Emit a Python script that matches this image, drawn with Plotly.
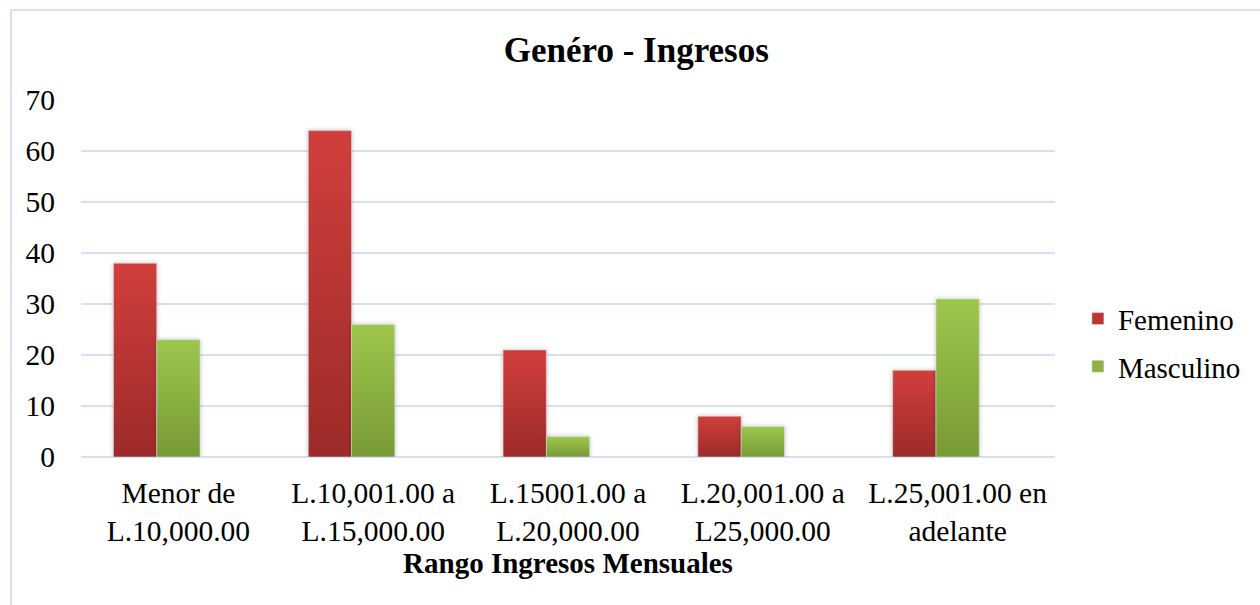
import plotly.graph_objects as go

categories = ["Menor de<br>L.10,000.00", "L.10,001.00 a<br>L.15,000.00", "L.15001.00 a<br>L.20,000.00",
              "L.20,001.00 a<br>L25,000.00", "L.25,001.00 en<br>adelante"]
femenino = [38, 64, 21, 8, 17]
masculino = [23, 26, 4, 6, 31]
y_ticks = [0, 10, 20, 30, 40, 50, 60, 70]

FONT = "Liberation Serif, Times New Roman, serif"
GRID = "#d6e2f3"

fig = go.Figure()
fig.add_trace(go.Bar(name="Femenino", x=categories, y=femenino, marker_color="#bb3633",
                     width=0.2222, offset=-0.3333, legendgroup="f"))
fig.add_trace(go.Bar(name="Masculino", x=categories, y=masculino, marker_color="#8db246",
                     width=0.2222, offset=-0.1111, legendgroup="m"))

fig.update_layout(
    width=1260, height=605,
    barmode="overlay",
    paper_bgcolor="white", plot_bgcolor="white",
    margin=dict(l=81, r=205, t=100, b=148, autoexpand=False),
    font=dict(family=FONT, size=29.5, color="black"),
    title=dict(text="<b>Genéro - Ingresos</b>", x=0.505, xanchor="center", xref="container",
               y=0.918, yanchor="middle", yref="container", font=dict(size=35, family=FONT, color="black")),
    xaxis=dict(showgrid=False, showline=False, zeroline=False, ticks="", ticklabelstandoff=15,
               range=[-0.5, 4.5], tickfont=dict(size=29.5, family=FONT),
               title=dict(text="<b>Rango Ingresos Mensuales</b>", font=dict(size=29, family=FONT), standoff=5)),
    yaxis=dict(range=[0, 70], tickvals=y_ticks, showgrid=True, gridcolor=GRID, gridwidth=2,
               zeroline=True, zerolinecolor=GRID, zerolinewidth=2, showline=False, ticks="",
               ticklabelstandoff=25, tickfont=dict(size=29.5, family=FONT)),
    legend=dict(x=1.0235, xanchor="left", y=0.32, yanchor="middle", traceorder="grouped",
                tracegroupgap=7, font=dict(size=29, family=FONT), bgcolor="rgba(0,0,0,0)"),
    showlegend=True,
    shapes=[
        dict(type="line", xref="paper", yref="paper", x0=-0.0719, x1=-0.0719, y0=1.2521, y1=-0.5,
             line=dict(color=GRID, width=2)),
        dict(type="line", xref="paper", yref="paper", x0=-0.0719, x1=1.3, y0=1.2521, y1=1.2521,
             line=dict(color=GRID, width=2)),
    ],
)

post = """
document.body.style.margin = '0';
var gd = document.getElementById('{plot_id}');
var svg = gd.querySelector('svg.main-svg');
var defs = svg.querySelector('defs');
var NS = 'http://www.w3.org/2000/svg';
function grad(id, top, bot) {
  var g = document.createElementNS(NS, 'linearGradient');
  g.setAttribute('id', id); g.setAttribute('x1', '0'); g.setAttribute('y1', '0');
  g.setAttribute('x2', '0'); g.setAttribute('y2', '1');
  var s1 = document.createElementNS(NS, 'stop'); s1.setAttribute('offset', '0'); s1.setAttribute('stop-color', top);
  var s2 = document.createElementNS(NS, 'stop'); s2.setAttribute('offset', '1'); s2.setAttribute('stop-color', bot);
  g.appendChild(s1); g.appendChild(s2); defs.appendChild(g);
}
grad('gradRed', '#d13f3c', '#9c2b29');
grad('gradGreen', '#9ec64b', '#789a37');
var ids = ['gradRed', 'gradGreen'];
var traces = gd.querySelectorAll('.barlayer .trace.bars');
traces.forEach(function(t, i) {
  t.querySelectorAll('path').forEach(function(p) {
    p.style.fill = 'url(#' + ids[i] + ')';
    p.style.filter = 'drop-shadow(0px 0px 2px rgba(0,0,0,0.25))';
  });
});
var leg = gd.querySelectorAll('.legend .traces');
leg.forEach(function(t, i) {
  t.querySelectorAll('path.legendbar').forEach(function(p) {
    p.style.fill = 'url(#' + ids[i] + ')';
    p.setAttribute('d', 'M12.5,8H-4V-8.5H12.5Z');
  });
});
"""

fig.write_html("out.html", post_script=post, config={"displayModeBar": False})
